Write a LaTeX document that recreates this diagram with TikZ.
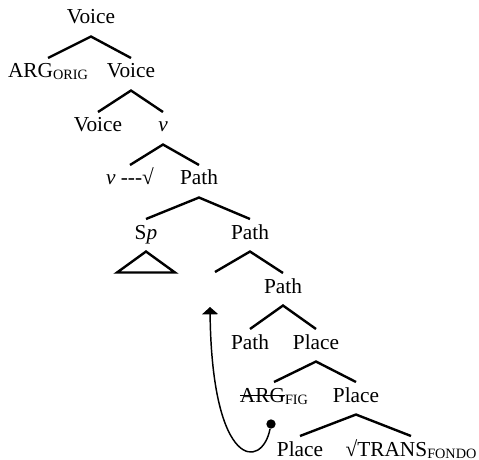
\documentclass[tikz,border=0pt]{standalone}
\usepackage{fontspec}
\setmainfont{Liberation Serif}
\usetikzlibrary{arrows.meta}
% small subscript label
\newcommand{\rasgo}[1]{\raisebox{-1.5pt}{\fontsize{10.7}{11}\selectfont #1}}
% struck-out text
\newcommand{\tachado}[1]{\setbox0\hbox{#1}\rlap{\rule[4.3pt]{\wd0}{0.9pt}}\box0}
\tikzset{
  cat/.style={anchor=base, inner sep=0pt, font=\fontsize{16}{18}\selectfont},
  rama/.style={line width=1.8pt, line join=miter},
  triang/.style={line width=1.8pt, line join=miter},
  flecha/.style={line width=1.1pt, -{Triangle[width=12pt,length=5.5pt]}},
  punto/.style={circle, fill=black, inner sep=0pt, minimum size=7pt}
}
% parent, left daughter, right daughter
\newcommand{\ramas}[3]{\draw[rama] ([yshift=15pt]#2.base) -- ([yshift=-9.4pt]#1.base) -- ([yshift=15pt]#3.base);}

\begin{document}
\begin{tikzpicture}[x=0.75pt, y=-0.75pt]
  \useasboundingbox (0,0) rectangle (479,460);

  \node[cat] (voz1) at (91,24) {Voice};
  \node[cat] (argorig) at (48,78) {ARG\rasgo{ORIG}};
  \node[cat] (voz2) at (131,78) {Voice};
  \node[cat] (voz3) at (98,132) {Voice};
  \node[cat] (v1) at (163,132) {\textit{v}};
  \node[cat] (vraiz) at (130,185) {\textit{v} -{}-{}-√};
  \node[cat] (tray1) at (199,185) {Path};
  \node[cat] (sp) at (146,239) {S\textit{p}};
  \node[cat] (tray2) at (250,239) {Path};
  \coordinate (hueco) at (215,292);
  \node[cat] (tray3) at (283,293) {Path};
  \node[cat] (tray4) at (250,349) {Path};
  \node[cat] (lugar1) at (316,349) {Place};
  \node[cat] (argfig) at (274,402) {\tachado{ARG}\rasgo{FIG}};
  \node[cat] (lugar2) at (356,402) {Place};
  \node[cat] (lugar3) at (300,456) {Place};
  \node[cat] (trans) at (411,456) {√TRANS\rasgo{FONDO}};

  \ramas{voz1}{argorig}{voz2}
  \ramas{voz2}{voz3}{v1}
  \ramas{v1}{vraiz}{tray1}
  \ramas{tray1}{sp}{tray2}
  \draw[rama] ([yshift=15pt]hueco) -- ([yshift=-9.4pt]tray2.base) -- ([yshift=15pt]tray3.base);
  \ramas{tray3}{tray4}{lugar1}
  \ramas{lugar1}{argfig}{lugar2}
  \ramas{lugar2}{lugar3}{trans}

  % triangle under Sp
  \draw[triang] ([yshift=-9.4pt]sp.base) -- ++(-29,21) -- ++(58,0) -- cycle;

  % movement arrow
  \node[punto] (origen) at (271,424) {};
  \coordinate (meta) at (210,307);
  \draw[flecha] (origen) .. controls (262,470) and (212,470) .. (meta);
\end{tikzpicture}
\end{document}
